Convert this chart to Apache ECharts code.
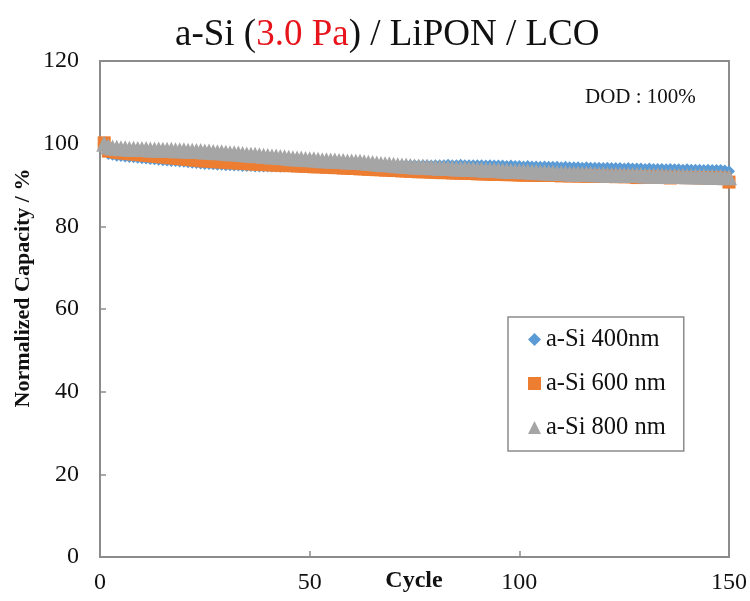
<!DOCTYPE html>
<html>
<head>
<meta charset="utf-8">
<script src="https://cdn.jsdelivr.net/npm/echarts@6/dist/echarts.min.js"></script>
<style>html,body{margin:0;padding:0;background:#fff}#c{width:750px;height:601px}</style>
</head>
<body>
<div id="c"></div>
<script>
const seriesNames = ['a-Si 400nm', 'a-Si 600 nm', 'a-Si 800 nm'];
const xTicks = [0, 50, 100, 150];
const yTicks = [0, 20, 40, 60, 80, 100, 120];

const s400 = [
 100.0, 97.5, 97.3, 97.1, 97.0, 96.9, 96.8, 96.7, 96.6, 96.5,
 96.4, 96.3, 96.2, 96.1, 96.0, 95.9, 95.8, 95.8, 95.7, 95.6,
 95.5, 95.4, 95.3, 95.2, 95.1, 95.1, 95.0, 94.9, 94.9, 94.8,
 94.8, 94.7, 94.7, 94.6, 94.6, 94.6, 94.5, 94.5, 94.5, 94.5,
 94.5, 94.5, 94.4, 94.5, 94.5, 94.4, 94.5, 94.5, 94.5, 94.5,
 94.5, 94.6, 94.5, 94.6, 94.6, 94.5, 94.6, 94.6, 94.6, 94.6,
 94.6, 94.6, 94.7, 94.6, 94.7, 94.7, 94.7, 94.7, 94.6, 94.7,
 94.7, 94.8, 94.7, 94.8, 94.8, 94.7, 94.8, 94.8, 94.7, 94.8,
 94.8, 94.8, 94.9, 94.8, 94.8, 94.9, 94.8, 94.8, 94.8, 94.8,
 94.8, 94.7, 94.8, 94.7, 94.7, 94.7, 94.6, 94.7, 94.6, 94.6,
 94.5, 94.6, 94.5, 94.5, 94.4, 94.5, 94.4, 94.4, 94.4, 94.3,
 94.4, 94.3, 94.3, 94.3, 94.2, 94.3, 94.2, 94.2, 94.2, 94.1,
 94.2, 94.1, 94.1, 94.1, 94.0, 94.1, 94.0, 94.0, 94.0, 93.9,
 94.0, 93.9, 93.9, 93.9, 93.8, 93.9, 93.8, 93.8, 93.7, 93.8,
 93.7, 93.7, 93.7, 93.6, 93.7, 93.6, 93.6, 93.6, 93.5, 93.3
];

const s600 = [
 100.2, 98.2, 98.1, 97.9, 97.8, 97.7, 97.6, 97.5, 97.4, 97.3,
 97.2, 97.1, 97.0, 96.9, 96.8, 96.7, 96.6, 96.5, 96.4, 96.3,
 96.2, 96.1, 96.0, 95.9, 95.8, 95.8, 95.7, 95.6, 95.6, 95.5,
 95.4, 95.4, 95.3, 95.3, 95.2, 95.1, 95.1, 95.0, 95.0, 94.9,
 94.9, 94.8, 94.8, 94.7, 94.7, 94.7, 94.6, 94.6, 94.5, 94.5,
 94.4, 94.4, 94.4, 94.3, 94.3, 94.2, 94.2, 94.1, 94.1, 94.0,
 94.0, 93.9, 93.9, 93.8, 93.8, 93.7, 93.7, 93.6, 93.6, 93.5,
 93.5, 93.4, 93.4, 93.3, 93.3, 93.2, 93.2, 93.2, 93.1, 93.1,
 93.0, 93.0, 93.0, 92.9, 92.9, 92.9, 92.8, 92.8, 92.8, 92.7,
 92.7, 92.7, 92.6, 92.6, 92.6, 92.6, 92.5, 92.5, 92.5, 92.4,
 92.4, 92.4, 92.4, 92.3, 92.4, 92.3, 92.3, 92.3, 92.3, 92.2,
 92.3, 92.2, 92.2, 92.2, 92.2, 92.1, 92.2, 92.1, 92.1, 92.1,
 92.1, 92.1, 92.0, 92.1, 92.0, 92.0, 92.0, 91.8, 92.0, 91.9,
 91.9, 91.9, 91.9, 91.9, 91.8, 91.7, 91.9, 91.8, 91.8, 91.8,
 91.8, 91.8, 91.7, 91.8, 91.7, 91.7, 91.7, 91.7, 91.6, 90.7
];

const s800 = [
 100.0, 99.3, 99.1, 99.0, 98.9, 98.9, 98.8, 98.8, 98.7, 98.7,
 98.7, 98.6, 98.6, 98.6, 98.5, 98.5, 98.5, 98.4, 98.4, 98.4,
 98.3, 98.3, 98.2, 98.2, 98.1, 98.1, 98.0, 97.9, 97.9, 97.8,
 97.7, 97.7, 97.6, 97.5, 97.4, 97.3, 97.3, 97.2, 97.1, 97.0,
 96.9, 96.9, 96.8, 96.7, 96.6, 96.5, 96.4, 96.4, 96.3, 96.2,
 96.2, 96.1, 96.0, 96.0, 95.9, 95.9, 95.8, 95.8, 95.7, 95.7,
 95.6, 95.6, 95.5, 95.4, 95.3, 95.2, 95.1, 95.0, 95.0, 94.9,
 94.8, 94.7, 94.7, 94.6, 94.5, 94.5, 94.4, 94.4, 94.3, 94.3,
 94.2, 94.2, 94.1, 94.1, 94.0, 94.0, 94.0, 93.9, 93.9, 93.8,
 93.8, 93.7, 93.7, 93.6, 93.6, 93.5, 93.5, 93.4, 93.4, 93.4,
 93.3, 93.3, 93.2, 93.2, 93.1, 93.1, 93.0, 93.0, 92.9, 92.9,
 92.9, 92.8, 92.8, 92.8, 92.7, 92.7, 92.7, 92.6, 92.6, 92.6,
 92.5, 92.5, 92.5, 92.5, 92.4, 92.4, 92.4, 92.4, 92.4, 92.3,
 92.3, 92.3, 92.3, 92.3, 92.2, 92.2, 92.2, 92.2, 92.2, 92.1,
 92.1, 92.1, 92.1, 92.1, 92.0, 92.0, 92.0, 92.0, 91.9, 91.9
];

const FONT = '"Liberation Serif", "Times New Roman", serif';
const AX = '#8c8c8c';
const toPts = arr => arr.map((v, i) => [i + 1, v]);

const chart = echarts.init(document.getElementById('c'), null, {renderer: 'canvas'});
chart.setOption({
  animation: false,
  backgroundColor: '#fff',
  title: {
    text: '{a|a-Si (}{b|3.0 Pa}{a|) / LiPON / LCO}',
    left: 170,
    top: 12,
    textStyle: {
      rich: {
        a: {fontFamily: FONT, fontSize: 37, fontWeight: 'normal', color: '#111'},
        b: {fontFamily: FONT, fontSize: 37, fontWeight: 'normal', color: '#e8141b'}
      }
    }
  },
  grid: {left: 100, right: 17, top: 61, bottom: 44, show: true, borderColor: AX, borderWidth: 2, backgroundColor: 'transparent'},
  legend: {
    orient: 'vertical',
    left: 508,
    top: 317,
    padding: [10, 18, 11, 20],
    itemGap: 19,
    itemWidth: 13,
    itemHeight: 13,
    borderColor: '#8c8c8c',
    borderWidth: 1.5,
    backgroundColor: '#fff',
    textStyle: {fontFamily: FONT, fontSize: 24.5, color: '#111'},
    data: [
      {name: seriesNames[0], icon: 'diamond'},
      {name: seriesNames[1], icon: 'rect'},
      {name: seriesNames[2], icon: 'triangle'}
    ]
  },
  xAxis: {
    type: 'value', min: xTicks[0], max: xTicks[xTicks.length - 1], interval: 50,
    axisLine: {show: true, lineStyle: {color: AX, width: 2}},
    axisTick: {show: true, inside: true, length: 6, lineStyle: {color: AX, width: 1.5}},
    splitLine: {show: false},
    axisLabel: {fontFamily: FONT, fontSize: 24, color: '#111', margin: 14}
  },
  yAxis: {
    type: 'value', min: yTicks[0], max: yTicks[yTicks.length - 1], interval: 20,
    axisLine: {show: true, lineStyle: {color: AX, width: 2}},
    axisTick: {show: true, inside: true, length: 6, lineStyle: {color: AX, width: 1.5}},
    splitLine: {show: false},
    axisLabel: {fontFamily: FONT, fontSize: 24, color: '#111', margin: 21}
  },
  graphic: [
    {type: 'text', x: 23, y: 288, rotation: Math.PI / 2,
     style: {text: 'Normalized Capacity / %', font: 'bold 22px ' + FONT, fill: '#111', align: 'center', verticalAlign: 'middle'}},
    {type: 'text', x: 414, y: 581,
     style: {text: 'Cycle', font: 'bold 24px ' + FONT, fill: '#111', align: 'center', verticalAlign: 'middle'}},
    {type: 'text', x: 585, y: 97,
     style: {text: 'DOD : 100%', font: '21px ' + FONT, fill: '#111', align: 'left', verticalAlign: 'middle'}}
  ],
  series: [
    {name: seriesNames[0], type: 'scatter', symbol: 'diamond', symbolSize: 12, data: toPts(s400),
     itemStyle: {color: '#5b9bd5', opacity: 1}, z: 2},
    {name: seriesNames[1], type: 'scatter', symbol: 'rect', symbolSize: 13, data: toPts(s600),
     itemStyle: {color: '#ed7d31', opacity: 1}, z: 3},
    {name: seriesNames[2], type: 'scatter', symbol: 'triangle', symbolSize: 16, data: toPts(s800),
     itemStyle: {color: '#a5a5a5', opacity: 1}, z: 4}
  ]
});
</script>
</body>
</html>
